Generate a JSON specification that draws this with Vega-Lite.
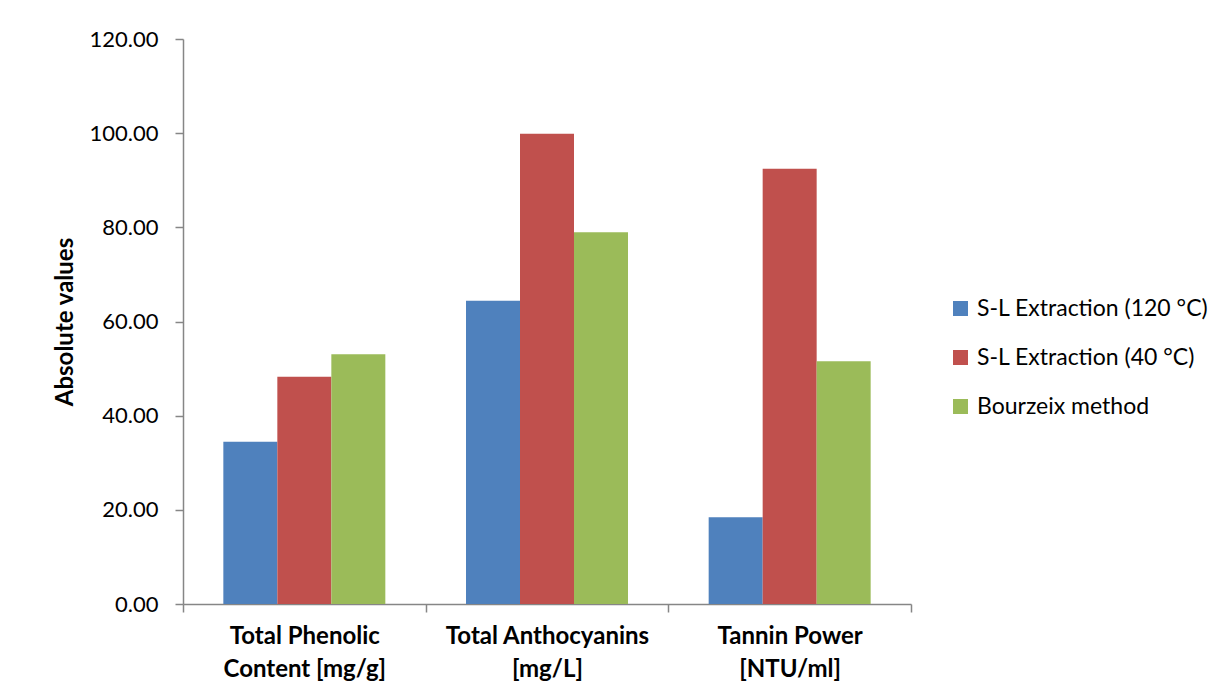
{
  "$schema": "https://vega.github.io/schema/vega-lite/v6.json",
  "width": 728,
  "height": 565,
  "autosize": {"type": "none"},
  "padding": {"left": 183, "top": 39, "right": 316, "bottom": 94},
  "background": "white",
  "config": {"view": {"stroke": null}, "font": "Lato"},
  "data": {
    "values": [
      {"category": "Total Phenolic Content [mg/g]", "method": "S-L Extraction (120 °C)", "value": 34.45},
      {"category": "Total Phenolic Content [mg/g]", "method": "S-L Extraction (40 °C)", "value": 48.25},
      {"category": "Total Phenolic Content [mg/g]", "method": "Bourzeix method", "value": 53.07},
      {"category": "Total Anthocyanins [mg/L]", "method": "S-L Extraction (120 °C)", "value": 64.4},
      {"category": "Total Anthocyanins [mg/L]", "method": "S-L Extraction (40 °C)", "value": 99.9},
      {"category": "Total Anthocyanins [mg/L]", "method": "Bourzeix method", "value": 78.96},
      {"category": "Tannin Power [NTU/ml]", "method": "S-L Extraction (120 °C)", "value": 18.4},
      {"category": "Tannin Power [NTU/ml]", "method": "S-L Extraction (40 °C)", "value": 92.46},
      {"category": "Tannin Power [NTU/ml]", "method": "Bourzeix method", "value": 51.58}
    ]
  },
  "mark": {"type": "bar"},
  "encoding": {
    "x": {
      "field": "category",
      "type": "nominal",
      "sort": ["Total Phenolic Content [mg/g]", "Total Anthocyanins [mg/L]", "Tannin Power [NTU/ml]"],
      "scale": {"paddingInner": 0, "paddingOuter": 0},
      "axis": {
        "title": null,
        "labelAngle": 0,
        "labelExpr": "datum.value == 'Total Phenolic Content [mg/g]' ? ['Total Phenolic', 'Content [mg/g]'] : datum.value == 'Total Anthocyanins [mg/L]' ? ['Total Anthocyanins', '[mg/L]'] : datum.value == 'Tannin Power [NTU/ml]' ? ['Tannin Power', '[NTU/ml]'] : ''",
        "labelFontSize": 24,
        "labelFontWeight": "bold",
        "labelColor": "black",
        "labelLineHeight": 33,
        "labelBaseline": "top",
        "labelPadding": 12,
        "labelLimit": 0,
        "tickBand": "extent",
        "tickSize": 8,
        "tickColor": "#868686",
        "domainColor": "#868686",
        "tickWidth": 1.5,
        "domainWidth": 1.5
      }
    },
    "xOffset": {
      "field": "method",
      "sort": ["S-L Extraction (120 °C)", "S-L Extraction (40 °C)", "Bourzeix method"],
      "scale": {"paddingInner": 0, "paddingOuter": 0.747}
    },
    "y": {
      "field": "value",
      "type": "quantitative",
      "scale": {"domain": [0, 120], "nice": false},
      "axis": {
        "title": "Absolute values",
        "titleFontSize": 24,
        "titleFontWeight": "bold",
        "titleColor": "black",
        "titlePadding": 12,
        "values": [0, 20, 40, 60, 80, 100, 120],
        "format": ".2f",
        "labelFontSize": 22,
        "labelColor": "black",
        "labelPadding": 17,
        "tickSize": 8,
        "tickColor": "#868686",
        "domainColor": "#868686",
        "tickWidth": 1.5,
        "domainWidth": 1.5,
        "grid": false
      }
    },
    "color": {
      "field": "method",
      "type": "nominal",
      "sort": ["S-L Extraction (120 °C)", "S-L Extraction (40 °C)", "Bourzeix method"],
      "scale": {"domain": ["S-L Extraction (120 °C)", "S-L Extraction (40 °C)", "Bourzeix method"], "range": ["#4F81BD", "#C0504D", "#9BBB59"]},
      "legend": {
        "title": null,
        "orient": "none",
        "legendX": 766,
        "legendY": 258,
        "padding": 0,
        "symbolType": "square",
        "symbolSize": 225,
        "symbolStrokeWidth": 0,
        "symbolOpacity": 1,
        "labelFontSize": 23,
        "labelColor": "black",
        "labelOffset": 5,
        "labelLimit": 0,
        "rowPadding": 25
      }
    }
  }
}
